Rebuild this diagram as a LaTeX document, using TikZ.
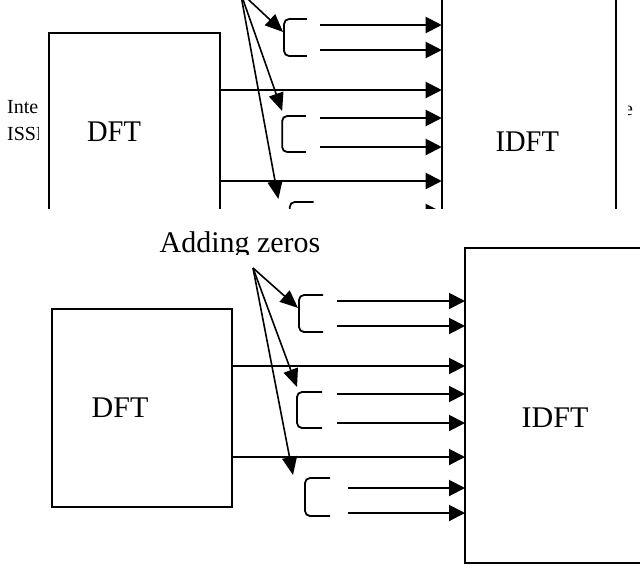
\documentclass[tikz,border=0pt]{standalone}
\usepackage{fontspec}
\setmainfont{Liberation Serif}
\usetikzlibrary{arrows.meta}
\tikzset{
  blk/.style={draw, line width=2pt, anchor=north west, inner sep=0pt, outer sep=0pt},
  lbl/.style={inner sep=0pt, font=\fontsize{30}{36}\selectfont},
  frag/.style={inner sep=0pt, anchor=base west, font=\fontsize{20}{27}\selectfont},
  sig/.style={line width=2pt, -{Triangle[length=16pt,width=16pt]}},
  ptr/.style={line width=1.6pt, -{Triangle[length=18pt,width=15pt]}},
  brk/.style={line width=1.8pt, rounded corners=5pt},
}
\newcommand\ofdmpanel[1]{%
  \node[blk, minimum width=180pt, minimum height=198pt] (dft) at (52,309) {};
  \node[blk, minimum width=183pt, minimum height=315pt] (idft) at (465,248) {};
  \node[lbl] (dftt) at (120,408) {DFT};
  \node[lbl] (idftt) at (555,418) {IDFT};
  #1%
  % brackets
  \draw[brk] (323,295) -- (299,295) -- (299,332) -- (323,332);
  \draw[brk] (322,392) -- (297,392) -- (297,428) -- (322,428);
  \draw[brk] (330,478) -- (305,478) -- (305,516) -- (330,516);
  % pointer arrows
  \coordinate (src) at (253,268);
  \coordinate (t1) at (298,308);
  \coordinate (t2) at (297,387);
  \coordinate (t3) at (293,475);
  \draw[ptr] (src) -- (t1);
  \draw[ptr] (src) -- (t2);
  \draw[ptr] (src) -- (t3);
  % zero inputs
  \coordinate (z1) at (337,301);
  \coordinate (z2) at (337,326);
  \coordinate (z3) at (337,394);
  \coordinate (z4) at (337,423);
  \coordinate (z5) at (348,488);
  \coordinate (z6) at (348,513);
  \foreach \z in {z1,z2,z3,z4,z5,z6} {\draw[sig] (\z) -- (\z -| idft.west);}
  % DFT outputs
  \draw[sig] ([yshift=42pt]dft.east) -- ([yshift=42pt]dft.east -| idft.west);
  \draw[sig] ([yshift=-49pt]dft.east) -- ([yshift=-49pt]dft.east -| idft.west);
}
\begin{document}
\begin{tikzpicture}[x=1pt, y=-1pt]
  \useasboundingbox (0,0) rectangle (640,568);
  \clip (0,0) rectangle (640,568);
  % top (cropped) copy
  \begin{scope}
    \clip (0,0) rectangle (640,208);
    \begin{scope}[xscale=0.95, yshift=276pt, transform shape, name prefix=top-]
      \ofdmpanel{}
    \end{scope}
  \end{scope}
  \begin{scope}
    \clip (0,90) rectangle (38,150);
    \node[frag] (f1) at (7,113) {Inte};
    \node[frag] (f2) at (7,140) {ISSN};
  \end{scope}
  \begin{scope}
    \clip (628,90) rectangle (640,130);
    \node[frag] (f3) at (624,115) {e};
  \end{scope}
  % bottom full copy
  \ofdmpanel{%
    \begin{scope}
      \clip (0,0) rectangle (640,254);
      \node[lbl, anchor=base] (zeros) at (240,252) {Adding zeros};
    \end{scope}}
\end{tikzpicture}
\end{document}
